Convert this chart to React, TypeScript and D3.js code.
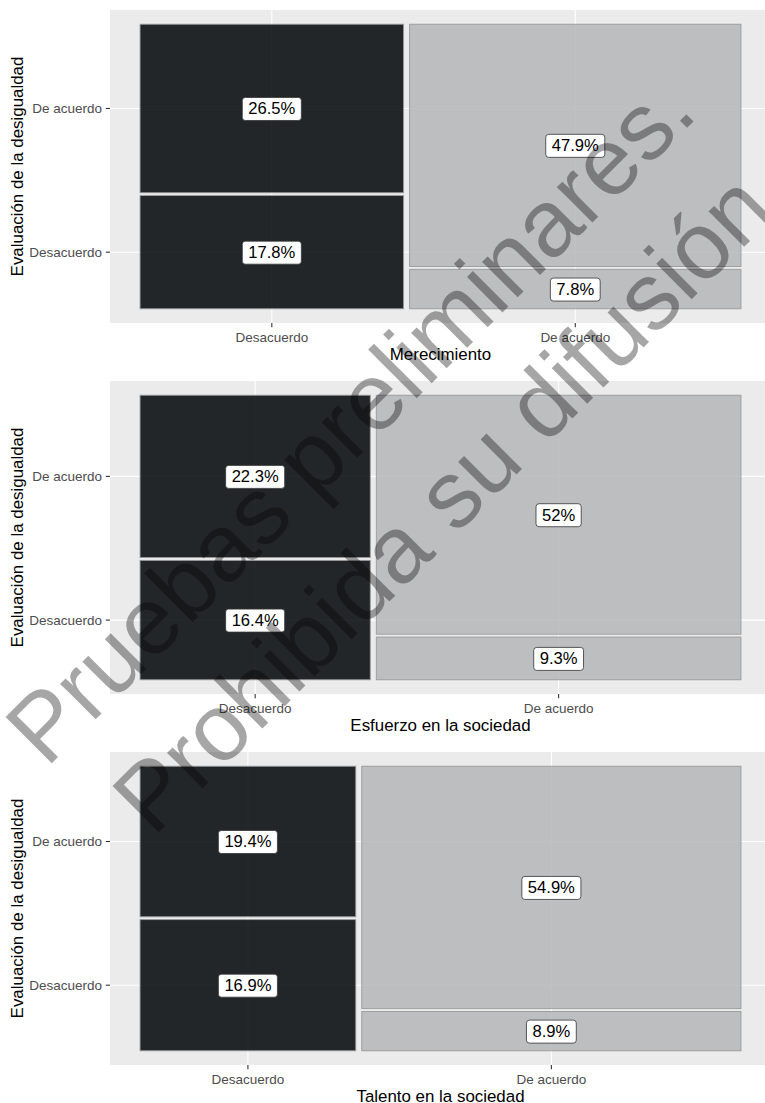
import React from "react";
import * as d3 from "d3";

// ---------- data ----------
const xCategories = ["Desacuerdo", "De acuerdo"];
const yCategories = ["Desacuerdo", "De acuerdo"]; // bottom to top
const panelTitles = ["Merecimiento", "Esfuerzo en la sociedad", "Talento en la sociedad"];
const yTitle = "Evaluación de la desigualdad";
// values[xIndex][yIndex] in % of total
const merecimiento = [
  [17.8, 26.5],
  [7.8, 47.9],
];
const esfuerzo = [
  [16.4, 22.3],
  [9.3, 52],
];
const talento = [
  [16.9, 19.4],
  [8.9, 54.9],
];
const panelsData = [merecimiento, esfuerzo, talento];
const watermarkLines = ["Pruebas preliminares.", "Prohibida su difusión"];

// ---------- layout ----------
const W = 765;
const H = 1103;
const FONT = "'Liberation Sans', Arial, Helvetica, sans-serif";
const panelLeft = 110;
const panelRight = 771;
const panelTop0 = 10;
const panelStep = 371;
const panelH = 313;
const gap = 0.01;
const expand = 0.05;

const measureCtx: CanvasRenderingContext2D | null =
  typeof document !== "undefined" ? document.createElement("canvas").getContext("2d") : null;
function textWidth(s: string, size: number) {
  if (!measureCtx) return s.length * size * 0.55;
  measureCtx.font = `${size}px ${FONT}`;
  return measureCtx.measureText(s).width;
}

function mosaic(values: number[][]) {
  const total = d3.sum(values.flat());
  const colTotals = values.map((c) => d3.sum(c));
  const usableX = 1 - gap * (values.length - 1);
  const rects: { x0: number; x1: number; y0: number; y1: number; v: number; xi: number; yi: number }[] = [];
  let cx = 0;
  values.forEach((col, xi) => {
    const w = (colTotals[xi] / total) * usableX;
    const usableY = 1 - gap * (col.length - 1);
    let cy = 0;
    col.forEach((v, yi) => {
      const h = (v / colTotals[xi]) * usableY;
      rects.push({ x0: cx, x1: cx + w, y0: cy, y1: cy + h, v, xi, yi });
      cy += h + gap;
    });
    cx += w + gap;
  });
  return rects;
}

function Panel({ index }: { index: number }) {
  const top = panelTop0 + panelStep * index;
  const bottom = top + panelH;
  const x = d3.scaleLinear().domain([-expand, 1 + expand]).range([panelLeft, panelRight]);
  const y = d3.scaleLinear().domain([-expand, 1 + expand]).range([bottom, top]);
  const rects = mosaic(panelsData[index]);
  const xTicks = xCategories.map((c, xi) => {
    const r = rects.find((d) => d.xi === xi)!;
    return { label: c, pos: x((r.x0 + r.x1) / 2) };
  });
  const yTicks = yCategories.map((c, yi) => {
    const r = rects.find((d) => d.xi === 0 && d.yi === yi)!;
    return { label: c, pos: y((r.y0 + r.y1) / 2) };
  });
  const fills = ["rgb(0,4,7)", "rgb(181,182,184)"];
  const labelSize = 16.6;
  return (
    <g>
      <rect x={panelLeft} y={top} width={panelRight - panelLeft} height={panelH} fill="#EBEBEB" />
      {xTicks.map((t) => (
        <line key={"gx" + t.label} x1={t.pos} x2={t.pos} y1={top} y2={bottom} stroke="#FFFFFF" strokeWidth={1.1} />
      ))}
      {yTicks.map((t) => (
        <line key={"gy" + t.label} x1={panelLeft} x2={panelRight} y1={t.pos} y2={t.pos} stroke="#FFFFFF" strokeWidth={1.1} />
      ))}
      {rects.map((r, i) => (
        <rect
          key={"r" + i}
          x={x(r.x0)}
          y={y(r.y1)}
          width={x(r.x1) - x(r.x0)}
          height={y(r.y0) - y(r.y1)}
          fill={fills[r.xi]}
          fillOpacity={0.85}
          stroke="#9A9A9A"
          strokeWidth={0.9}
        />
      ))}
      {rects.map((r, i) => {
        const cx = x((r.x0 + r.x1) / 2);
        const cy = y((r.y0 + r.y1) / 2);
        const txt = `${r.v}%`;
        const tw = textWidth(txt, labelSize);
        const bw = tw + 12;
        const bh = 23;
        return (
          <g key={"l" + i}>
            <rect x={cx - bw / 2} y={cy - bh / 2 + 0.5} width={bw} height={bh} rx={3} ry={3} fill="#FFFFFF" stroke="#333333" strokeWidth={0.8} />
            <text x={cx} y={cy} dy="0.36em" textAnchor="middle" fontSize={labelSize} fill="#000000" fontFamily={FONT}>
              {txt}
            </text>
          </g>
        );
      })}
      {/* axes */}
      {xTicks.map((t) => (
        <g key={"xt" + t.label}>
          <line x1={t.pos} x2={t.pos} y1={bottom} y2={bottom + 4.2} stroke="#333333" strokeWidth={1.1} />
          <text x={t.pos} y={bottom + 18.5} textAnchor="middle" fontSize={13.5} fill="#4D4D4D" fontFamily={FONT}>
            {t.label}
          </text>
        </g>
      ))}
      {yTicks.map((t) => (
        <g key={"yt" + t.label}>
          <line x1={panelLeft - 4.2} x2={panelLeft} y1={t.pos} y2={t.pos} stroke="#333333" strokeWidth={1.1} />
          <text x={panelLeft - 8} y={t.pos} dy="0.36em" textAnchor="end" fontSize={13.5} fill="#4D4D4D" fontFamily={FONT}>
            {t.label}
          </text>
        </g>
      ))}
      <text x={(panelLeft + panelRight) / 2} y={bottom + 37} textAnchor="middle" fontSize={16.9} fill="#000000" fontFamily={FONT}>
        {panelTitles[index]}
      </text>
      <text
        transform={`translate(22.7, ${(top + bottom) / 2}) rotate(-90)`}
        textAnchor="middle"
        fontSize={16.9}
        fill="#000000"
        fontFamily={FONT}
      >
        {yTitle}
      </text>
    </g>
  );
}

export default function App() {
  const wmCenters = [
    [373, 442],
    [465, 526],
  ];
  return (
    <svg width={W} height={H} style={{ position: "absolute", left: 0, top: 0, background: "#FFFFFF" }}>
      <rect x={0} y={0} width={W} height={H} fill="#FFFFFF" />
      {panelsData.map((_, i) => (
        <Panel key={i} index={i} />
      ))}
      {watermarkLines.map((s, i) => (
        <text
          key={"wm" + i}
          transform={`translate(${wmCenters[i][0]}, ${wmCenters[i][1]}) rotate(-45)`}
          textAnchor="middle"
          fontSize={95}
          fill="#000000"
          fillOpacity={0.35}
          fontFamily={FONT}
        >
          {s}
        </text>
      ))}
    </svg>
  );
}
